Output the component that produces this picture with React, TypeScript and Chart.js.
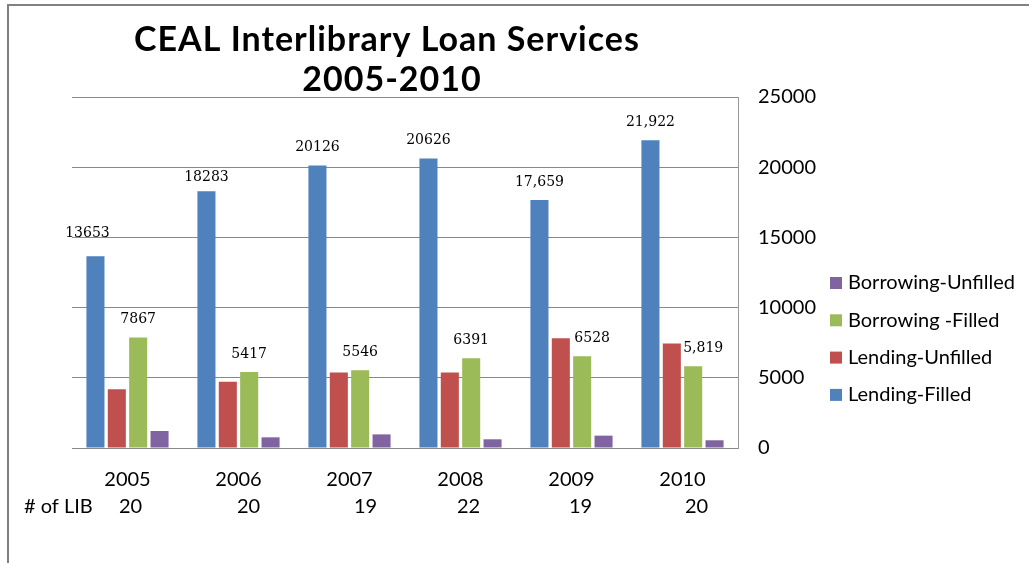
import React, { useEffect, useRef } from "react";
import { Chart, registerables } from "chart.js";

Chart.register(...registerables);

const categories = ["2005", "2006", "2007", "2008", "2009", "2010"];
const libCounts = ["20", "20", "19", "22", "19", "20"];
const lendingFilled = [13653, 18283, 20126, 20626, 17659, 21922];
const lendingUnfilled = [4180, 4720, 5370, 5370, 7810, 7450];
const borrowingFilled = [7867, 5417, 5546, 6391, 6528, 5819];
const borrowingUnfilled = [1210, 760, 970, 620, 880, 550];
const lendingFilledLabels = ["13653", "18283", "20126", "20626", "17,659", "21,922"];
const borrowingFilledLabels = ["7867", "5417", "5546", "6391", "6528", "5,819"];
const yTickValues = [0, 5000, 10000, 15000, 20000, 25000];
const titleLines = ["CEAL Interlibrary Loan Services", "2005-2010"];
const libRowTitle = "# of LIB";

const SANS = "Lato, 'Open Sans', sans-serif";
const SERIF = "'DejaVu Serif', serif";

const decorPlugin = {
  id: "decor",
  beforeDraw(chart: any) {
    const ctx = chart.ctx;
    ctx.save();
    ctx.fillStyle = "#ffffff";
    ctx.fillRect(0, 0, chart.width, chart.height);
    ctx.strokeStyle = "#808080";
    ctx.lineWidth = 2;
    ctx.beginPath();
    ctx.moveTo(8, chart.height);
    ctx.lineTo(8, 5);
    ctx.lineTo(chart.width, 5);
    ctx.stroke();
    ctx.restore();
  },
  afterDatasetsDraw(chart: any) {
    const ctx = chart.ctx;
    ctx.save();
    ctx.font = `14px ${SERIF}`;
    ctx.fillStyle = "#000";
    ctx.textAlign = "center";
    ctx.textBaseline = "middle";
    const blue = chart.getDatasetMeta(0).data;
    const red = chart.getDatasetMeta(1).data;
    const green = chart.getDatasetMeta(2).data;
    blue.forEach((bar: any, i: number) => {
      const dx = i === 0 ? -8 : 0;
      const dy = i === 0 ? 23 : i === 1 ? 14 : 18;
      ctx.fillText(lendingFilledLabels[i], bar.x + dx, bar.y - dy);
    });
    green.forEach((bar: any, i: number) => {
      const dx = red[i].y < bar.y ? 10 : 0;
      ctx.fillText(borrowingFilledLabels[i], bar.x + dx, bar.y - 18);
    });
    ctx.restore();
  },
  afterDraw(chart: any) {
    const ctx = chart.ctx;
    ctx.save();
    ctx.fillStyle = "#000";
    // title
    ctx.font = `bold 34px ${SANS}`;
    (ctx as any).letterSpacing = "1px";
    ctx.textAlign = "center";
    ctx.textBaseline = "middle";
    ctx.fillText(titleLines[0], 387, 40);
    ctx.fillText(titleLines[1], 392, 80);
    (ctx as any).letterSpacing = "0px";
    // # of LIB row
    ctx.font = `20px ${SANS}`;
    ctx.textAlign = "left";
    ctx.fillText(libRowTitle, 24, 507);
    ctx.textAlign = "center";
    const xs = chart.scales.x;
    const nudges = [3, 10, 16, 8, 9, 14];
    libCounts.forEach((c, i) => {
      ctx.fillText(c, xs.getPixelForValue(i) + nudges[i], 507);
    });
    // legend (reverse order)
    const ds = chart.data.datasets;
    ctx.textAlign = "left";
    for (let k = 0; k < ds.length; k++) {
      const d = ds[ds.length - 1 - k];
      const cy = 283 + k * 37.3;
      ctx.fillStyle = d.backgroundColor;
      ctx.fillRect(830, cy - 6, 12, 12);
      ctx.fillStyle = "#000";
      ctx.fillText(d.label, 848, cy);
    }
    ctx.restore();
  },
};

export default function App() {
  const ref = useRef<HTMLCanvasElement>(null);
  useEffect(() => {
    const canvas = ref.current!;
    const chart = new Chart(canvas, {
      type: "bar",
      data: {
        labels: categories,
        datasets: [
          { label: "Lending-Filled", data: lendingFilled, backgroundColor: "#4F81BD" },
          { label: "Lending-Unfilled", data: lendingUnfilled, backgroundColor: "#C0504D" },
          { label: "Borrowing -Filled", data: borrowingFilled, backgroundColor: "#9BBB59" },
          { label: "Borrowing-Unfilled", data: borrowingUnfilled, backgroundColor: "#8064A2" },
        ],
      },
      options: {
        responsive: false,
        animation: false,
        layout: { padding: { top: 97, left: 72, right: 0, bottom: 0 } },
        datasets: { bar: { categoryPercentage: 0.77, barPercentage: 0.845 } },
        plugins: {
          legend: { display: false },
          title: { display: false },
          tooltip: { enabled: false },
        },
        scales: {
          x: {
            grid: { display: false, drawTicks: false },
            border: { display: true, color: "#888888" },
            ticks: { font: { family: SANS, size: 20 }, color: "#000", padding: 20 },
            afterFit: (s: any) => {
              s.height = 115;
            },
          },
          y: {
            position: "right",
            min: 0,
            max: 25000,
            afterBuildTicks: (s: any) => {
              s.ticks = yTickValues.map((v) => ({ value: v }));
            },
            ticks: {
              font: { family: SANS, size: 20 },
              color: "#000",
              padding: 20,
              callback: (v: any) => String(v),
            },
            grid: { color: "#888888", drawTicks: false },
            border: { display: true, color: "#999999" },
            afterFit: (s: any) => {
              s.width = 291;
            },
          },
        },
      },
      plugins: [decorPlugin],
    });
    return () => chart.destroy();
  }, []);
  return (
    <div style={{ position: "absolute", left: 0, top: 0, width: 1029, height: 563, background: "#fff" }}>
      <canvas ref={ref} width={1029} height={563} style={{ display: "block" }} />
    </div>
  );
}
